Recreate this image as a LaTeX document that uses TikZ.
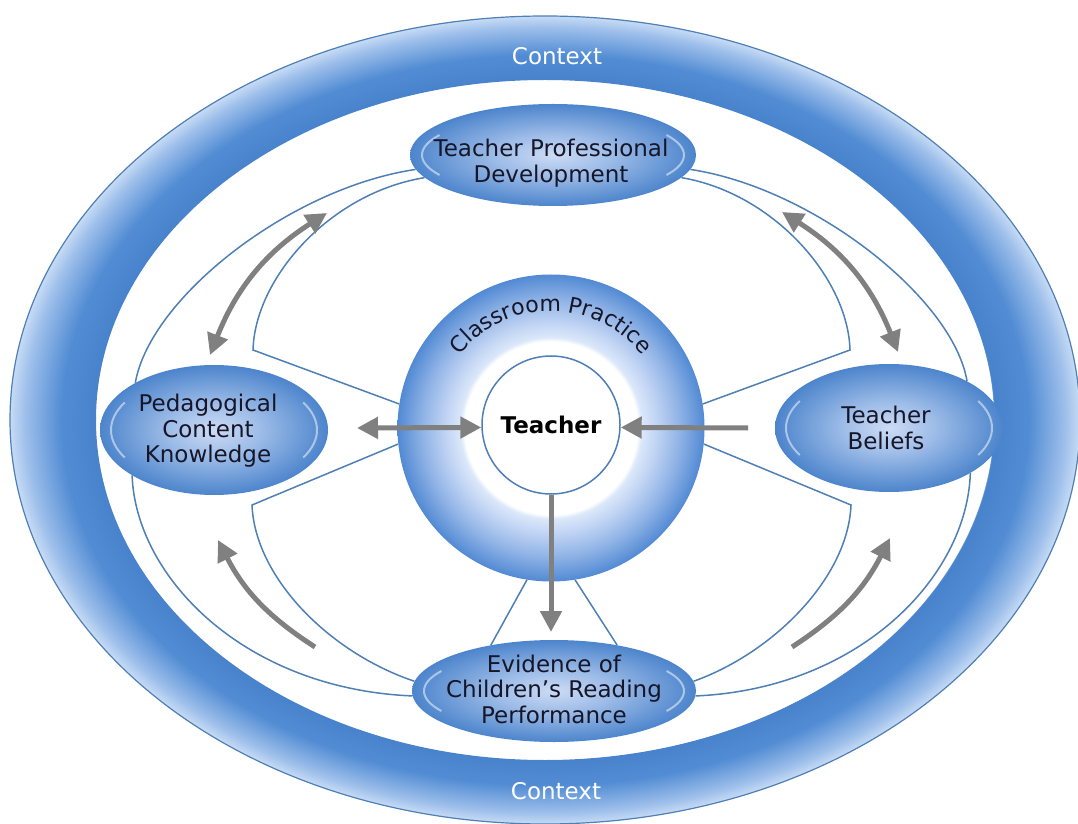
\documentclass[tikz,border=0pt]{standalone}
\usepackage{fontspec}
\setmainfont{DejaVu Sans}
\usetikzlibrary{shapes.geometric,arrows.meta,decorations.text}
\definecolor{lineblue}{RGB}{78,127,181}
\definecolor{arrowgray}{RGB}{128,128,128}
\definecolor{txtdark}{RGB}{22,22,40}
\pgfdeclareradialshading{ctxring}{\pgfpoint{0bp}{0bp}}{rgb(0bp)=(1,1,1); rgb(20.9bp)=(1,1,1); rgb(21bp)=(0.28,0.51,0.80); rgb(22.6bp)=(0.32,0.55,0.83); rgb(24.3bp)=(0.62,0.75,0.92); rgb(25bp)=(0.78,0.86,0.96); rgb(50bp)=(0.78,0.86,0.96)}
\pgfdeclareradialshading{donutsh}{\pgfpoint{0bp}{0bp}}{rgb(0bp)=(1,1,1); rgb(14.1bp)=(1,1,1); rgb(14.8bp)=(0.86,0.91,0.98); rgb(17.5bp)=(0.74,0.82,0.95); rgb(21bp)=(0.56,0.70,0.90); rgb(25bp)=(0.32,0.54,0.83); rgb(50bp)=(0.32,0.54,0.83)}
\pgfdeclareradialshading{ellsh}{\pgfpoint{0bp}{0bp}}{rgb(0bp)=(0.80,0.86,0.96); rgb(10bp)=(0.62,0.74,0.91); rgb(25bp)=(0.30,0.52,0.80); rgb(50bp)=(0.30,0.52,0.80)}
\tikzset{gtip/.tip={Triangle[length=21pt,width=21pt]}}
\newcommand\hlarcs[3]{%
  \draw[hlstyle] ([shift={(150:#2 and #3)}]#1.center) arc[start angle=150,end angle=210,x radius=#2,y radius=#3];
  \draw[hlstyle] ([shift={(-30:#2 and #3)}]#1.center) arc[start angle=-30,end angle=30,x radius=#2,y radius=#3];}
\begin{document}
\begin{tikzpicture}[x=1pt,y=1pt,
  thinline/.style={draw=lineblue, line width=1.5pt},
  garrow/.style={draw=arrowgray, line width=5pt},
  oval/.style={ellipse, inner sep=0pt, shade, shading=ellsh},
  lbl/.style={align=center, font=\fontsize{23pt}{25.5pt}\selectfont, text=txtdark, inner sep=0pt},
  ctx/.style={font=\fontsize{23pt}{26pt}\selectfont, text=white, inner sep=0pt},
  hlstyle/.style={draw=white, opacity=0.5, line width=2pt}]
\useasboundingbox (0,0) rectangle (1078,823);
% context ring
\shade[shading=ctxring, even odd rule] (545,403) ellipse [x radius=535, y radius=404] (545,403) ellipse [x radius=449, y radius=340];
\draw[lineblue, line width=1.2pt] (545,403) ellipse [x radius=535, y radius=404];
\node[ctx] (ctxtop) at (557,767) {Context};
\node[ctx] (ctxbot) at (556,32) {Context};
% ovals
\node[oval, minimum width=286pt, minimum height=102pt] (tpd) at (553,668) {};
\node[oval, minimum width=228pt, minimum height=130pt] (pck) at (214,393) {};
\node[oval, minimum width=228pt, minimum height=128pt] (tb) at (889,395) {};
\node[oval, minimum width=284pt, minimum height=102pt] (ev) at (554,132) {};
\hlarcs{tpd}{131}{40}
\hlarcs{pck}{103}{55}
\hlarcs{tb}{103}{54}
\hlarcs{ev}{130}{40}
\node[lbl] (tpdtxt) at (551,660) {Teacher Professional\\Development};
\node[lbl] (pcktxt) at (208,392) {Pedagogical\\Content\\Knowledge};
\node[lbl] (tbtxt) at (886,395) {Teacher\\Beliefs};
\node[lbl] (evtxt) at (554,134) {Evidence of\\Children’s Reading\\Performance};
% classroom practice donut
\node[circle, minimum size=307pt, inner sep=0pt, shade, shading=donutsh] (cp) at (551,395) {};
\path[decorate, decoration={text along path, text align=center, text color=txtdark,
  text={|\fontsize{22pt}{25pt}\selectfont|Classroom Practice}}]
  ([shift={(180:117)}]cp.center) arc[start angle=180, end angle=0, radius=117];
\node[circle, minimum size=138pt, inner sep=0pt, fill=white, draw=lineblue, line width=1.5pt,
  font=\bfseries\fontsize{23pt}{25pt}\selectfont, text=black] (teacher) at (551,398) {Teacher};
% thin connector lines
\coordinate (cUL) at (253,473);
\coordinate (cUR) at (850,473);
\coordinate (cLL) at (252,318);
\coordinate (cLR) at (851,318);
\draw[thinline] (tpd.186) .. controls (290,635) and (150,525) .. (pck.149);
\draw[thinline] (tpd.190) .. controls (330,630) and (255,545) .. (cUL) -- (cp.171);
\draw[thinline] (cp.186) -- (cLL) .. controls (255,245) and (330,170) .. (ev.176);
\draw[thinline] (pck.209) .. controls (136,245) and (245,134) .. (ev.182);
\draw[thinline] (tpd.354) .. controls (813,635) and (953,525) .. (tb.31);
\draw[thinline] (tpd.350) .. controls (773,630) and (848,545) .. (cUR) -- (cp.9);
\draw[thinline] (cp.354) -- (cLR) .. controls (848,245) and (773,170) .. (ev.4);
\draw[thinline] (tb.331) .. controls (967,245) and (858,134) .. (ev.358);
\draw[thinline] (cp.261) -- (ev.144);
\draw[thinline] (cp.279) -- (ev.36);
% gray arrows
\coordinate (aUL1) at (210,468);
\coordinate (aUL2) at (327,610);
\coordinate (aUR1) at (782,611);
\coordinate (aUR2) at (898,471);
\coordinate (aLL1) at (315,176);
\coordinate (aLL2) at (218,283);
\coordinate (aLR1) at (792,176);
\coordinate (aLR2) at (890,285);
\coordinate (hL) at (357,395);
\coordinate (hR) at (748,395);
\coordinate (vD) at (551,191);
\draw[garrow, gtip-gtip] (aUL1) to[bend left=18] (aUL2);
\draw[garrow, gtip-gtip] (aUR1) to[bend left=18] (aUR2);
\draw[garrow, -gtip] (aLL1) to[bend left=15] (aLL2);
\draw[garrow, -gtip] (aLR1) to[bend right=15] (aLR2);
\draw[garrow, gtip-gtip] (hL) -- (teacher.182);
\draw[garrow, -gtip] (hR) -- (teacher.358);
\draw[garrow, -gtip] (teacher.south) -- (vD);
\end{tikzpicture}
\end{document}
